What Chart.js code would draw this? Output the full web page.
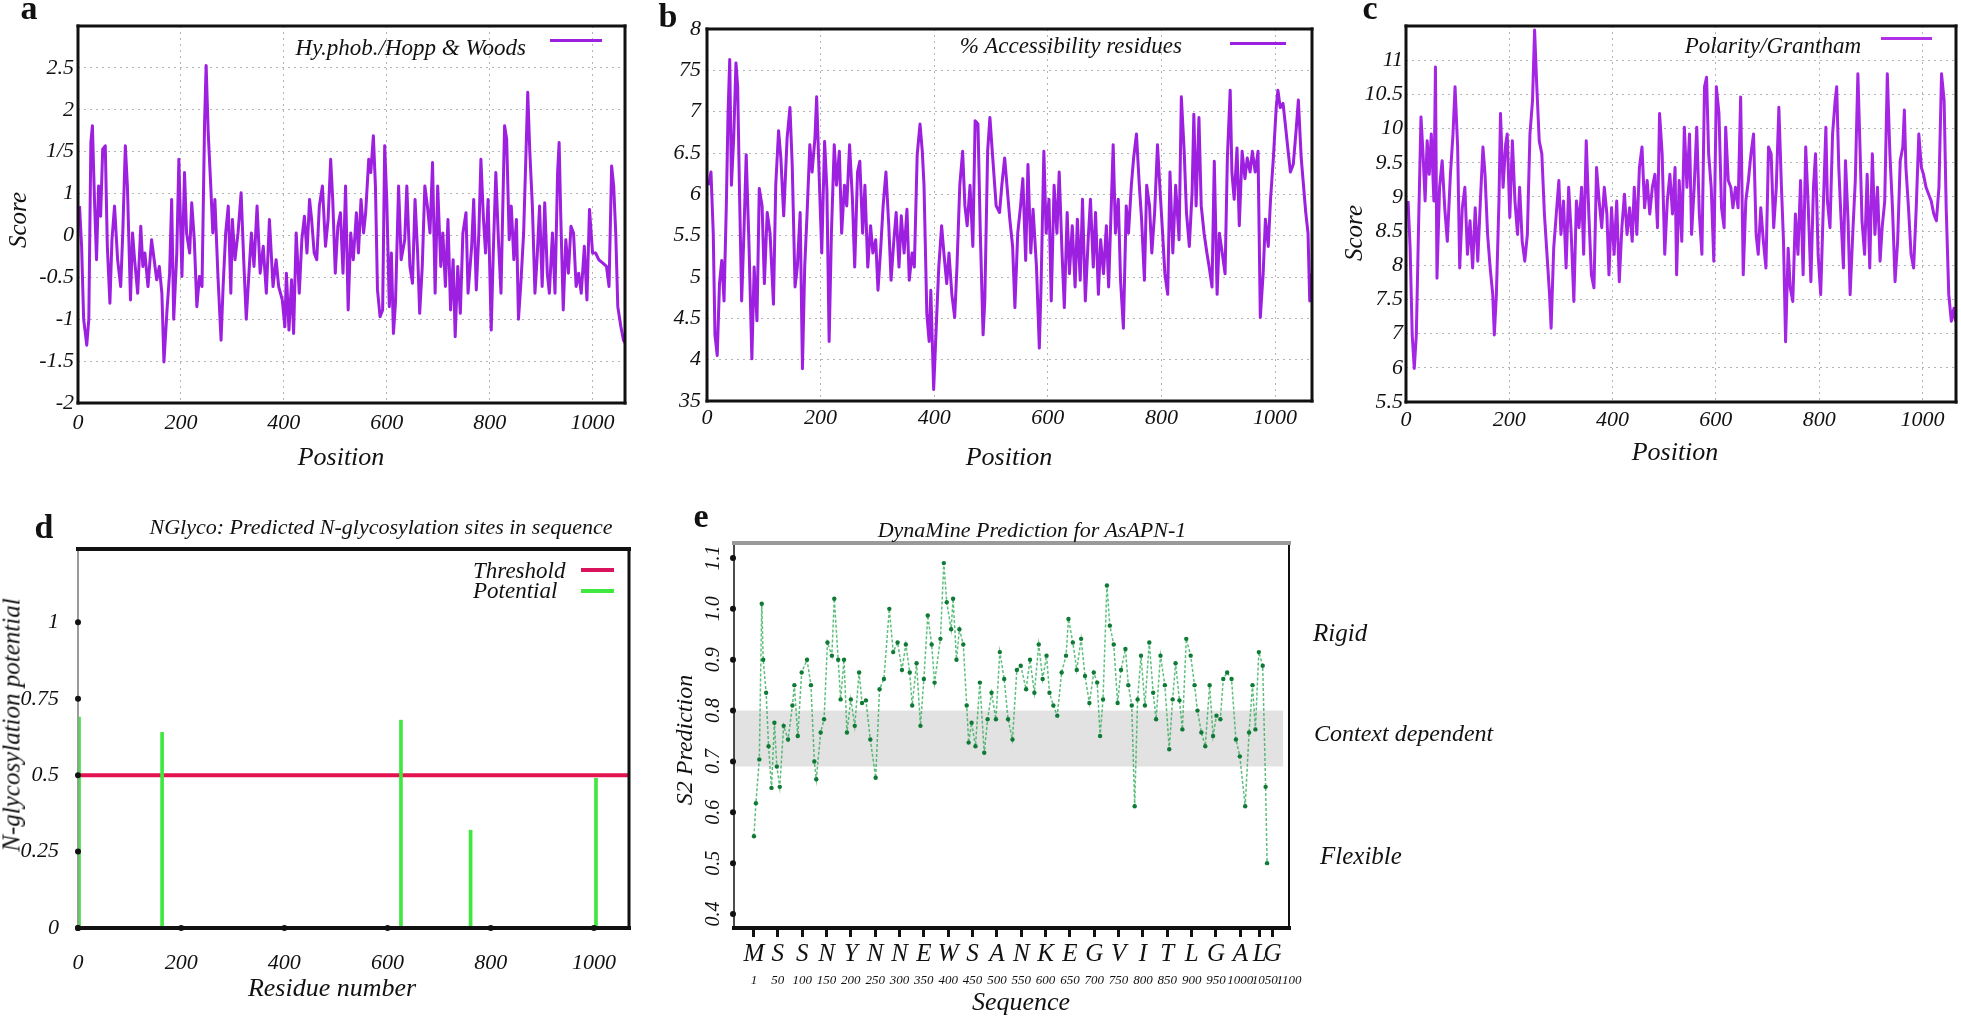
<!DOCTYPE html>
<html>
<head>
<meta charset="utf-8">
<script src="https://cdn.jsdelivr.net/npm/chart.js@4.4.1/dist/chart.umd.min.js"></script>
<style>
  body { margin: 0; background: #fff; }
  #page { position: relative; width: 1961px; height: 1016px; overflow: hidden; font-family: "Liberation Serif", serif; color: #111; }
  canvas { position: absolute; }
  .t { position: absolute; font-style: italic; white-space: nowrap; line-height: 1; transform: translate(-50%, -50%); }
  .tl { transform: translate(0, -50%); }
  .tr { transform: translate(-100%, -50%); }
  .rot { transform: translate(-50%, -50%) rotate(-90deg); }
  .p { position: absolute; font-weight: bold; font-size: 34px; line-height: 1; transform: translate(-50%, -50%); }
  .key { position: absolute; height: 3px; }
</style>
</head>
<body>
<div id="page">
  <canvas id="ca" width="640" height="480" style="left:0px;top:0px"></canvas>
  <canvas id="cb" width="690" height="480" style="left:640px;top:0px"></canvas>
  <canvas id="cc" width="631" height="480" style="left:1330px;top:0px"></canvas>
  <canvas id="cd" width="650" height="476" style="left:0px;top:540px"></canvas>
  <canvas id="ce" width="680" height="486" style="left:650px;top:530px"></canvas>

  <div class="p" style="left:29px;top:8px">a</div>
  <div class="p" style="left:668px;top:16px">b</div>
  <div class="p" style="left:1370px;top:8px">c</div>
  <div class="p" style="left:44px;top:527px">d</div>
  <div class="p" style="left:701px;top:516px">e</div>

  <div class="t tr" style="left:526px;top:47px;font-size:23px">Hy.phob./Hopp &amp; Woods</div>
  <div class="key" style="left:550px;top:39px;width:52px;background:#9d1fe0"></div>
  <div class="t rot" style="left:17px;top:220px;font-size:25px">Score</div>
  <div class="t" style="left:341px;top:457px;font-size:26px">Position</div>

  <div class="t tr" style="left:1182px;top:45px;font-size:23px">% Accessibility residues</div>
  <div class="key" style="left:1230px;top:42px;width:56px;background:#9d1fe0"></div>
  <div class="t" style="left:1009px;top:457px;font-size:26px">Position</div>

  <div class="t tr" style="left:1861px;top:45px;font-size:23px">Polarity/Grantham</div>
  <div class="key" style="left:1881px;top:37px;width:51px;background:#b030e8"></div>
  <div class="t rot" style="left:1353px;top:233px;font-size:25px">Score</div>
  <div class="t" style="left:1675px;top:452px;font-size:26px">Position</div>

  <div class="t" style="left:381px;top:527px;font-size:22px">NGlyco: Predicted N-glycosylation sites in sequence</div>
  <div class="t tl" style="left:473px;top:570px;font-size:23px">Threshold</div>
  <div class="t tl" style="left:473px;top:590px;font-size:23px">Potential</div>
  <div class="key" style="left:581px;top:568px;width:33px;height:4px;background:#d8145c"></div>
  <div class="key" style="left:581px;top:589px;width:33px;height:4px;background:#3ee83e"></div>
  <div class="t rot" style="left:11px;top:725px;font-size:25px">N-glycosylation potential</div>
  <div class="t" style="left:332px;top:988px;font-size:26px">Residue number</div>

  <div class="t" style="left:1032px;top:530px;font-size:22px">DynaMine Prediction for AsAPN-1</div>
  <div class="t rot" style="left:684px;top:740px;font-size:24px">S2 Prediction</div>
  <div class="t" style="left:1021px;top:1002px;font-size:26px">Sequence</div>
  <div class="t tl" style="left:1313px;top:632px;font-size:25px">Rigid</div>
  <div class="t tl" style="left:1314px;top:733px;font-size:24px">Context dependent</div>
  <div class="t tl" style="left:1320px;top:855px;font-size:25px">Flexible</div>
</div>

<script>
// a: Hopp & Woods hydrophobicity (axis labels are uneven in the original, values in grid units)
const aPos = [3,7,11,17,21,25,28,32,36,40,44,48,53,57,62,66,71,77,83,87,92,96,102,106,110,116,122,126,130,136,143,148,153,158,163,167,173,178,182,186,192,196,202,207,211,217,221,226,231,236,241,246,249,253,258,262,266,272,278,282,287,292,297,300,305,311,317,322,327,333,337,342,348,354,360,366,372,379,385,390,397,402,405,410,415,419,424,430,435,440,445,450,454,459,464,469,475,481,486,491,495,500,505,510,515,520,525,530,535,541,545,550,555,559,565,569,574,578,582,587,592,596,600,605,609,613,617,623,628,635,639,645,650,655,660,664,669,674,679,684,689,694,699,705,709,714,719,724,729,733,738,743,748,754,758,765,769,774,779,783,788,792,797,803,807,812,817,822,825,829,833,838,842,847,852,856,861,866,871,874,878,883,888,892,897,902,907,912,916,922,927,932,935,938,943,948,953,958,963,968,973,978,984,989,994,1000,1006,1012,1020,1027,1032,1037,1041,1045,1049,1055,1060,1064];
const aScore = [0.35,-0.13,-1.0,-1.31,-1.0,1.11,1.31,0.43,-0.29,0.59,0.23,1.03,1.07,-0.13,-0.81,-0.05,0.35,-0.29,-0.61,0.03,1.07,0.59,-0.77,0.03,-0.29,-0.69,0.11,-0.37,-0.21,-0.61,-0.05,-0.29,-0.53,-0.37,-0.69,-1.51,-0.89,-0.45,0.43,-1.0,-0.21,0.91,-0.49,0.75,0.03,-0.21,0.39,-0.05,-0.85,-0.49,-0.61,1.35,2.03,1.23,0.59,0.03,0.43,-0.49,-1.25,-0.61,0.03,0.35,-0.69,0.19,-0.29,0.03,0.51,-0.29,-1.0,-0.37,0.03,-0.37,0.35,-0.45,-0.13,-0.69,0.19,-0.61,-0.29,-0.61,-0.77,-1.09,-0.45,-1.13,-0.53,-1.17,0.03,-0.69,-0.05,0.23,-0.21,0.43,0.19,-0.21,-0.29,0.35,0.59,-0.13,0.19,0.91,0.43,-0.45,0.11,0.27,-0.45,0.59,-0.89,0.03,-0.29,0.27,-0.21,0.43,0.03,0.27,0.91,0.75,1.19,0.59,-0.65,-0.97,-0.89,1.07,0.43,-0.85,-0.21,-1.17,-0.8,0.59,-0.29,-0.05,0.59,-0.37,-0.57,0.43,-0.21,-0.93,-0.37,0.59,0.35,0.03,0.87,-0.69,0.59,-0.37,0.03,-0.61,0.19,-0.89,-0.29,-1.21,-0.37,-0.93,0.03,0.27,-0.69,-0.13,0.43,-0.65,0.03,0.91,0.19,-0.21,0.43,-1.13,-0.21,0.75,-0.05,-0.69,0.19,1.31,1.15,-0.05,0.35,-0.29,0.19,-1.0,-0.53,0.03,1.07,1.71,1.0,0.35,-0.69,-0.29,0.35,-0.61,0.39,-0.45,-0.69,0.03,-0.69,0.75,1.11,0.27,-0.89,-0.05,-0.45,0.11,0.03,-0.61,-0.45,-0.69,-0.13,-0.77,0.31,-0.21,-0.21,-0.29,-0.33,-0.37,-0.61,0.83,0.59,0.03,-0.85,-1.09,-1.25,-1.29];
const aYLabels = ['-2', '-1.5', '-1', '-0.5', '0', '1', '1/5', '2', '2.5'];

// b: % accessibility
const bPos = [3,7,11,14,18,22,26,30,34,37,40,43,47,51,54,57,61,65,69,74,79,83,88,92,97,101,106,111,117,121,126,130,135,141,146,150,155,159,164,168,172,176,181,185,190,193,198,202,207,211,215,219,224,228,233,237,242,246,251,256,260,265,269,274,278,283,288,292,297,301,306,310,315,320,324,329,333,338,342,347,352,356,361,365,370,375,379,382,387,391,394,399,404,408,413,417,422,426,431,436,440,445,450,454,458,463,468,472,477,481,486,489,494,498,503,509,515,519,524,529,533,538,542,547,552,556,561,565,570,574,580,585,588,593,597,602,606,611,616,620,625,629,634,638,643,648,652,657,661,666,671,675,680,684,689,693,698,703,707,712,715,719,724,728,733,738,742,747,751,756,761,765,770,774,779,783,788,793,797,802,806,811,815,820,825,831,835,840,844,849,854,857,861,866,870,875,880,884,889,893,898,902,907,912,916,921,924,928,933,937,942,947,951,956,960,965,970,974,979,983,988,992,997,1002,1005,1009,1014,1018,1023,1027,1032,1037,1041,1046,1050,1054,1058,1061,1064];
const bAcc = [6.11,6.27,5.53,4.30,4.05,4.92,5.20,4.71,5.86,6.97,7.63,6.11,6.68,7.59,7.30,6.11,4.71,5.53,6.48,5.37,4.01,5.12,4.47,6.07,5.86,4.92,5.78,5.53,4.67,6.11,6.77,6.44,5.74,6.68,7.05,6.36,4.88,5.12,5.78,3.89,5.12,5.74,6.60,6.27,6.68,7.18,6.11,5.29,6.64,6.07,4.22,5.53,6.60,6.11,6.52,5.53,6.11,5.86,6.60,5.94,5.12,6.27,6.40,5.53,6.11,5.12,5.62,5.29,5.45,4.84,5.37,5.86,6.27,5.62,4.96,5.45,5.78,5.12,5.74,5.29,5.82,4.96,5.29,5.12,6.48,6.85,6.52,6.11,4.55,4.22,4.84,3.64,4.47,5.12,5.62,5.29,4.92,5.29,4.79,4.51,5.12,6.11,6.52,5.86,5.62,6.11,5.37,6.89,6.85,5.57,4.30,4.71,6.52,6.93,6.44,5.86,5.78,6.11,6.44,6.03,5.70,5.37,4.63,5.53,5.86,6.19,5.20,6.36,5.29,5.82,5.12,4.14,4.88,6.52,5.53,5.94,4.71,6.11,5.53,6.27,5.29,4.63,5.78,5.04,5.62,4.88,5.70,4.96,5.94,4.71,5.45,5.94,5.12,5.78,4.79,5.45,5.04,5.62,4.88,5.94,6.60,5.53,5.94,4.96,4.38,5.86,5.53,6.11,6.44,6.73,6.11,5.70,4.96,6.11,5.86,5.29,5.78,6.60,6.11,5.53,5.04,4.79,6.27,5.29,6.11,5.45,7.18,6.52,5.78,5.37,6.03,6.97,5.86,6.93,5.86,5.53,5.29,5.12,4.88,6.40,4.79,5.53,5.29,5.04,6.44,7.26,6.27,5.94,6.56,5.62,6.52,6.19,6.44,6.27,6.52,6.27,6.52,4.51,5.04,5.70,5.37,5.94,6.44,7.05,7.26,7.05,7.10,6.85,6.52,6.27,6.36,6.77,7.14,6.44,6.11,5.78,5.53,4.71,5.04];
const bYLabels = ['35', '4', '4.5', '5', '5.5', '6', '6.5', '7', '75', '8'];

// c: Grantham polarity
const cPos = [4,8,12,16,20,24,29,33,37,41,45,49,54,57,60,65,70,75,80,86,91,95,100,104,109,114,119,124,129,134,139,144,149,153,158,163,168,171,175,180,183,188,193,196,201,206,211,216,220,225,230,235,240,245,249,253,258,263,268,273,278,281,286,291,296,300,305,310,315,320,325,330,335,340,344,349,354,359,364,369,374,379,384,389,393,398,403,408,413,418,423,428,433,438,442,447,452,457,462,467,472,477,482,487,491,496,501,506,511,516,521,524,529,534,539,544,549,553,558,563,568,573,578,582,586,591,596,601,606,611,616,619,624,629,633,638,643,648,653,658,663,668,673,678,682,687,692,697,702,707,712,717,722,727,731,735,740,744,749,754,759,764,769,774,779,784,789,793,798,803,808,813,816,821,826,831,834,838,842,847,851,856,860,865,870,875,878,883,888,893,898,903,908,913,918,922,927,932,937,942,947,952,957,962,965,968,973,978,983,988,993,998,1002,1007,1012,1017,1022,1027,1032,1037,1042,1046,1051,1056,1061,1064];
const cPol = [8.94,8.25,6.98,6.49,6.98,8.45,10.17,9.63,8.94,9.82,9.33,9.92,8.94,10.90,7.81,9.14,9.53,8.84,8.35,9.33,9.92,10.61,9.73,7.96,8.84,9.14,8.16,8.65,7.96,8.84,8.06,8.94,9.73,9.33,8.45,7.96,7.57,6.98,7.57,8.94,10.22,9.14,9.77,9.92,8.70,9.82,8.94,8.45,9.14,8.35,8.06,8.45,9.92,10.41,11.44,10.66,9.82,9.63,8.75,8.16,7.57,7.08,8.25,8.75,9.24,8.45,8.94,7.96,9.14,8.45,7.47,8.94,8.55,9.14,8.16,9.82,8.75,7.86,7.67,9.43,8.94,8.55,9.14,8.75,7.86,8.84,8.16,8.94,7.76,8.55,9.04,8.45,8.84,8.35,9.14,8.45,9.43,9.73,8.84,9.24,8.75,9.14,9.33,8.55,10.22,9.63,8.16,8.94,9.33,8.75,9.43,7.86,9.24,8.35,10.02,9.14,9.92,8.45,9.14,10.02,8.75,8.16,10.61,10.75,9.63,9.14,8.06,10.61,10.22,8.84,8.55,10.02,9.24,9.14,8.84,9.14,8.84,10.46,7.86,8.94,9.24,9.63,9.92,8.45,8.16,8.84,8.35,7.96,9.73,9.63,8.55,9.14,10.31,9.14,8.35,6.88,8.25,7.67,7.47,8.75,8.16,9.24,7.86,9.73,8.84,7.76,9.14,9.63,8.16,7.57,8.84,10.02,8.94,8.55,9.92,10.41,10.61,9.43,8.75,7.96,9.53,8.65,7.57,8.45,9.24,10.80,10.02,8.65,8.16,9.33,7.96,9.63,8.45,9.14,8.06,8.55,8.94,10.80,9.63,8.84,7.76,8.35,9.53,9.73,10.27,9.43,8.84,8.16,7.96,8.84,9.92,9.43,9.33,9.14,9.04,8.94,8.75,8.65,9.14,10.80,10.41,8.84,7.57,7.18,7.37,7.18];
const cYLabels = ['5.5', '6', '7', '7.5', '8', '8.5', '9', '9.5', '10', '10.5', '11'];

const positionTicks = [0, 200, 400, 600, 800, 1000];

// d: NGlyco sites
const dSites = [2, 163, 626, 761, 1004];
const dPotential = [0.69, 0.64, 0.68, 0.32, 0.49];
const dThreshold = 0.5;
const dYTicks = [0, 0.25, 0.5, 0.75, 1];
const dYLabels = ['0', '0.25', '0.5', '0.75', '1'];

// e: DynaMine S2
const eRes = [1,5,12,17,20,26,31,37,43,48,54,62,71,80,84,91,99,110,118,125,129,138,145,152,161,166,174,179,186,192,200,208,217,223,231,240,251,259,268,279,287,296,305,313,321,326,335,343,350,358,366,372,384,391,397,406,410,417,423,431,438,442,448,456,465,474,481,489,498,506,515,523,532,541,549,560,568,577,586,594,602,608,616,624,633,642,647,656,664,673,681,690,699,706,712,718,726,732,740,748,755,764,770,777,783,789,796,804,813,821,827,836,845,854,861,867,875,881,889,898,906,912,920,928,937,944,951,959,965,973,982,991,999,1010,1018,1025,1031,1038,1046,1052,1055];
const eS2 = [0.553,0.618,0.704,1.01,0.90,0.835,0.73,0.648,0.776,0.69,0.65,0.77,0.743,0.81,0.85,0.75,0.875,0.90,0.85,0.70,0.665,0.757,0.783,0.934,0.908,1.02,0.90,0.822,0.90,0.757,0.822,0.77,0.875,0.815,0.82,0.743,0.668,0.842,0.862,1.00,0.915,0.934,0.88,0.93,0.875,0.81,0.893,0.77,0.862,0.987,0.93,0.855,0.941,1.09,1.013,0.96,1.02,0.90,0.96,0.93,0.81,0.737,0.776,0.73,0.855,0.717,0.783,0.835,0.783,0.915,0.862,0.783,0.743,0.88,0.888,0.842,0.90,0.835,0.93,0.862,0.908,0.835,0.81,0.79,0.875,0.908,0.98,0.934,0.88,0.941,0.868,0.815,0.875,0.855,0.75,0.822,1.046,0.967,0.93,0.815,0.88,0.921,0.85,0.81,0.612,0.822,0.908,0.81,0.934,0.835,0.783,0.908,0.85,0.724,0.822,0.893,0.82,0.763,0.941,0.908,0.85,0.80,0.757,0.73,0.85,0.75,0.79,0.783,0.862,0.875,0.862,0.743,0.71,0.612,0.757,0.85,0.763,0.915,0.888,0.65,0.50];
const eLetterRes = [1,50,100,150,200,250,300,350,400,450,500,550,600,650,700,750,800,850,900,950,1000,1040,1066];
const eLetters = ['M','S','S','N','Y','N','N','E','W','S','A','N','K','E','G','V','I','T','L','G','A','L','G'];
const eNumberRes = [1,50,100,150,200,250,300,350,400,450,500,550,600,650,700,750,800,850,900,950,1000,1050,1100];
const eYTicks = [0.4, 0.5, 0.6, 0.7, 0.8, 0.9, 1.0, 1.1];
const eBand = [0.69, 0.80];

const lineColor = '#9d1fe0';
const gridColor = '#b4b4b4';

// use the first serif face the browser really has
function pickSerif(names) {
    const ctx = document.createElement('canvas').getContext('2d');
    const sample = 'Position Residue number 0123456789 mmwwiill';
    const widthOf = f => { ctx.font = '40px ' + f; return ctx.measureText(sample).width; };
    const mono = widthOf('monospace');
    const sans = widthOf('sans-serif');
    for (const n of names) {
        if (widthOf('"' + n + '", monospace') !== mono && widthOf('"' + n + '", sans-serif') !== sans) {
            return '"' + n + '", serif';
        }
    }
    return 'serif';
}
const serif = pickSerif(['Liberation Serif', 'Tinos', 'Times New Roman', 'Times', 'Nimbus Roman', 'FreeSerif', 'DejaVu Serif', 'Noto Serif']);
document.getElementById('page').style.fontFamily = serif;

Chart.defaults.font.family = serif;
Chart.defaults.font.style = 'italic';
Chart.defaults.color = '#111';
Chart.defaults.animation = false;
Chart.defaults.responsive = false;
Chart.defaults.plugins.legend.display = false;
Chart.defaults.plugins.tooltip.enabled = false;

function points(xs, ys) {
    return xs.map((x, i) => ({ x: x, y: ys[i] }));
}

// fixed axis sizes so the plot frame lands where the original one is
function fixHeight(h) {
    return s => { s.height = h; s.paddingLeft = 0; s.paddingRight = 0; };
}
function fixWidth(w) {
    return s => { s.width = w; s.paddingTop = 0; s.paddingBottom = 0; };
}

// frame around the plot area, one colour/width per side, plus gnuplot-style tick dots
const framePlugin = {
    id: 'frame',
    afterDatasetsDraw(chart, args, opts) {
        const ctx = chart.ctx;
        const ca = chart.chartArea;
        const sides = opts.sides || {};
        const line = (s, x1, y1, x2, y2) => {
            if (!sides[s]) return;
            ctx.strokeStyle = sides[s][1];
            ctx.lineWidth = sides[s][0];
            ctx.beginPath();
            ctx.moveTo(x1, y1);
            ctx.lineTo(x2, y2);
            ctx.stroke();
        };
        ctx.save();
        ctx.lineCap = 'square';
        line('left', ca.left, ca.top, ca.left, ca.bottom);
        line('right', ca.right, ca.top, ca.right, ca.bottom);
        line('top', ca.left, ca.top, ca.right, ca.top);
        line('bottom', ca.left, ca.bottom, ca.right, ca.bottom);
        if (opts.dots) {
            ctx.fillStyle = '#111';
            chart.scales.y.ticks.forEach(t => {
                ctx.beginPath();
                ctx.arc(ca.left, chart.scales.y.getPixelForValue(t.value), 3, 0, Math.PI * 2);
                ctx.fill();
            });
            chart.scales.x.ticks.forEach(t => {
                ctx.beginPath();
                ctx.arc(chart.scales.x.getPixelForValue(t.value), ca.bottom, 3, 0, Math.PI * 2);
                ctx.fill();
            });
        }
        ctx.restore();
    }
};

function profileChart(canvasId, xs, ys, o) {
    return new Chart(document.getElementById(canvasId), {
        type: 'line',
        data: {
            datasets: [{
                data: points(xs, ys),
                borderColor: o.color || lineColor,
                borderWidth: 3,
                borderJoinStyle: 'round',
                pointRadius: 0,
                tension: 0
            }]
        },
        options: {
            layout: { padding: o.padding },
            scales: {
                x: {
                    type: 'linear', min: 0, max: o.xMax,
                    afterBuildTicks: s => { s.ticks = positionTicks.map(v => ({ value: v })); },
                    afterFit: fixHeight(o.xHeight),
                    ticks: { padding: o.xPad, font: { size: 22 }, maxRotation: 0, autoSkip: false, callback: v => String(v) },
                    grid: { color: gridColor, drawTicks: false },
                    border: { display: false, dash: [2, 4] }
                },
                y: {
                    type: 'linear', min: o.yMin, max: o.yMax,
                    afterBuildTicks: s => { s.ticks = o.yLabels.map((t, i) => ({ value: o.yMin + i * 0.5 })); },
                    afterFit: fixWidth(o.yWidth),
                    ticks: { padding: o.yPad, font: { size: 22 }, autoSkip: false, callback: (v, i) => o.yLabels[i] },
                    grid: { color: gridColor, drawTicks: false },
                    border: { display: false, dash: [2, 4] }
                }
            },
            plugins: {
                frame: { sides: { left: [3, '#111'], right: [3, '#111'], top: [3, '#111'], bottom: [3, '#111'] } }
            }
        },
        plugins: [framePlugin]
    });
}

profileChart('ca', aPos, aScore, {
    padding: { left: 0, top: 26, right: 15, bottom: 0 },
    xMax: 1063, xHeight: 77, xPad: 7,
    yMin: -2, yMax: 2.5, yWidth: 78, yPad: 4, yLabels: aYLabels
});

profileChart('cb', bPos, bAcc, {
    padding: { left: 0, top: 29, right: 18, bottom: 0 },
    xMax: 1065, xHeight: 79, xPad: 4,
    yMin: 3.5, yMax: 8, yWidth: 67, yPad: 6, yLabels: bYLabels
});

profileChart('cc', cPos, cPol, {
    padding: { left: 0, top: 26, right: 5, bottom: 0 },
    xMax: 1065, xHeight: 78, xPad: 5,
    yMin: 6, yMax: 11.5, yWidth: 76, yPad: 3, yLabels: cYLabels, color: '#a525e4'
});

// d: impulses for the potential, flat line for the threshold
new Chart(document.getElementById('cd'), {
    type: 'line',
    data: {
        datasets: [{
            type: 'line',
            data: [{ x: 0, y: dThreshold }, { x: 1068, y: dThreshold }],
            borderColor: '#e3134f',
            borderWidth: 4,
            pointRadius: 0,
            order: 2
        }, {
            type: 'bar',
            data: points(dSites, dPotential),
            backgroundColor: '#3ee83e',
            barThickness: 3,
            order: 1
        }]
    },
    options: {
        layout: { padding: { left: 0, top: 9, right: 21, bottom: 0 } },
        scales: {
            x: {
                type: 'linear', min: 0, max: 1068, offset: false,
                afterBuildTicks: s => { s.ticks = positionTicks.map(v => ({ value: v })); },
                afterFit: fixHeight(88),
                ticks: { padding: 14, font: { size: 22 }, maxRotation: 0, autoSkip: false, callback: v => String(v) },
                grid: { display: false },
                border: { display: false }
            },
            y: {
                type: 'linear', min: 0, max: 1.24,
                afterBuildTicks: s => { s.ticks = dYTicks.map(v => ({ value: v })); },
                afterFit: fixWidth(78),
                ticks: { padding: 11, font: { size: 22 }, callback: (v, i) => dYLabels[i] },
                grid: { display: false },
                border: { display: false }
            }
        },
        plugins: {
            frame: { sides: { left: [2, '#9a9a9a'], right: [3, '#111'], top: [4, '#111'], bottom: [4, '#111'] }, dots: true }
        }
    },
    plugins: [framePlugin]
});

// e: grey context band and rotated y labels
const bandPlugin = {
    id: 'band',
    beforeDatasetsDraw(chart) {
        const ctx = chart.ctx;
        const ca = chart.chartArea;
        const y = chart.scales.y;
        const top = y.getPixelForValue(eBand[1]);
        const bottom = y.getPixelForValue(eBand[0]);
        ctx.save();
        ctx.fillStyle = '#e2e2e2';
        ctx.fillRect(ca.left, top, chart.scales.x.getPixelForValue(1088) - ca.left, bottom - top);
        ctx.restore();
    },
    afterDraw(chart) {
        const ctx = chart.ctx;
        const ca = chart.chartArea;
        const y = chart.scales.y;
        ctx.save();
        ctx.fillStyle = '#111';
        ctx.font = 'italic 20px ' + serif;
        ctx.textAlign = 'center';
        ctx.textBaseline = 'middle';
        eYTicks.forEach(v => {
            const py = y.getPixelForValue(v);
            ctx.beginPath();
            ctx.arc(ca.left - 1, py, 3, 0, Math.PI * 2);
            ctx.fill();
            ctx.save();
            ctx.translate(ca.left - 20, py);
            ctx.rotate(-Math.PI / 2);
            ctx.fillText(v.toFixed(1), 0, 0);
            ctx.restore();
        });
        ctx.restore();
    }
};

new Chart(document.getElementById('ce'), {
    type: 'line',
    data: {
        datasets: [{
            data: points(eRes, eS2),
            borderColor: 'rgba(40,170,80,0.75)',
            borderWidth: 1.5,
            borderDash: [3, 2],
            pointRadius: 2.2,
            pointBackgroundColor: '#0e7a35',
            pointBorderWidth: 0,
            tension: 0
        }]
    },
    options: {
        layout: { padding: { left: 0, top: 13, right: 41, bottom: 0 } },
        scales: {
            x: {
                type: 'linear', min: -40, max: 1100, weight: 1,
                afterBuildTicks: s => { s.ticks = eLetterRes.map(v => ({ value: v })); },
                afterFit: fixHeight(34),
                ticks: { padding: 2, font: { size: 25 }, maxRotation: 0, autoSkip: false, callback: (v, i) => eLetters[i] },
                grid: { drawOnChartArea: false, drawTicks: true, tickLength: 9, color: '#111', lineWidth: 3 },
                border: { display: false }
            },
            x2: {
                type: 'linear', position: 'bottom', min: -40, max: 1100, weight: 2,
                afterBuildTicks: s => { s.ticks = eNumberRes.map(v => ({ value: v })); },
                afterFit: fixHeight(54),
                ticks: { padding: 3, font: { size: 13 }, maxRotation: 0, autoSkip: false, callback: (v, i) => String(eNumberRes[i]) },
                grid: { display: false },
                border: { display: false }
            },
            y: {
                type: 'linear', min: 0.3725, max: 1.1295,
                afterBuildTicks: s => { s.ticks = eYTicks.map(v => ({ value: v })); },
                afterFit: fixWidth(84),
                ticks: { display: false },
                grid: { display: false },
                border: { display: false }
            }
        },
        plugins: {
            frame: { sides: { left: [1.5, '#111'], right: [2, '#111'], top: [4, '#9a9a9a'], bottom: [4, '#111'] } }
        }
    },
    plugins: [framePlugin, bandPlugin]
});
</script>
</body>
</html>
